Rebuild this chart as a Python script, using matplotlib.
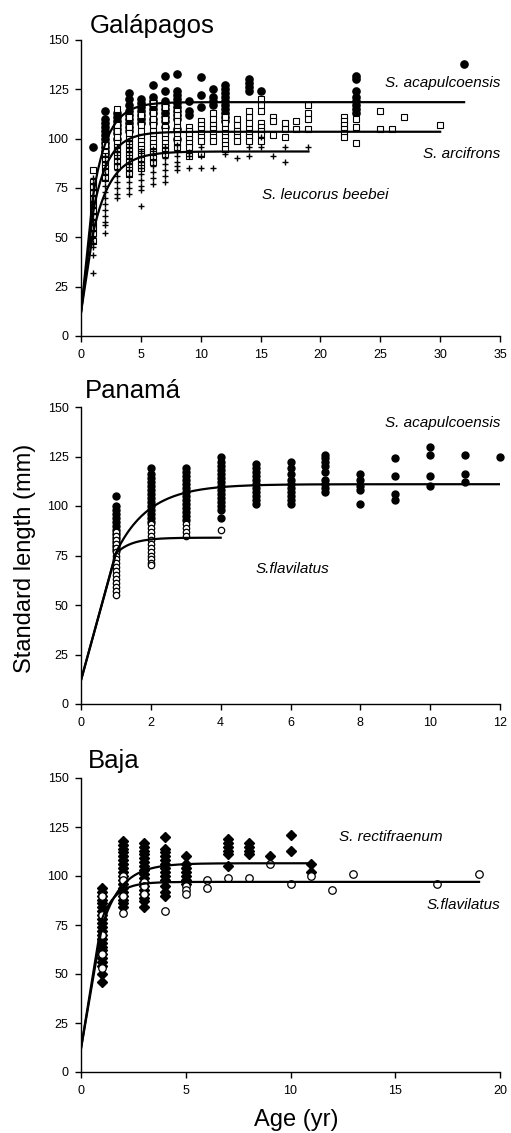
import numpy as np
import matplotlib.pyplot as plt

plt.rcParams['font.family'] = ['Liberation Sans', 'DejaVu Sans']

# ---- Galápagos ----
gal_acap_age = [1, 2, 3, 4, 5, 6, 7, 8, 9, 10, 11, 12, 14, 15, 23, 32]
gal_acap_sl = [
    [96],
    [114, 110, 108, 106, 104, 102, 100, 98, 96, 94, 92],
    [113, 111, 109, 107, 105, 103, 100],
    [123, 120, 117, 114, 112, 110, 108, 106, 104],
    [120, 118, 116, 114, 112, 110, 108],
    [127, 121, 119, 117, 115, 113, 110, 108],
    [132, 124, 119, 117, 115, 113, 111, 109, 106],
    [133, 124, 122, 120, 118, 116, 114, 112, 110, 105, 100],
    [119, 114, 112],
    [131, 122, 116],
    [125, 121, 119, 117],
    [127, 125, 123, 121, 119, 117, 115, 113, 111, 109],
    [130, 128, 126, 124],
    [124],
    [132, 130, 124, 121, 119, 117, 115, 113],
    [138],
]
gal_arci_age = [1, 2, 3, 4, 5, 6, 7, 8, 9, 10, 11, 12, 13, 14, 15, 16, 17, 18,
                19, 22, 23, 25, 26, 27, 30]
gal_arci_sl = [
    [84, 78, 76, 73, 70, 67, 64, 61, 58, 55, 52, 48],
    [97, 93, 91, 89, 87, 85, 83, 80],
    [115, 107, 104, 101, 98, 96, 94, 92, 90, 88, 86],
    [111, 106, 103, 100, 98, 96, 94, 92, 90, 88, 86, 84, 82],
    [112, 107, 104, 101, 99, 97, 95, 93, 91, 89, 87, 85],
    [118, 113, 110, 107, 104, 102, 100, 98, 96, 94, 92, 90, 88],
    [116, 110, 106, 104, 102, 100, 98, 96, 94, 92],
    [114, 112, 109, 106, 104, 102, 100, 98, 96],
    [106, 104, 102, 100, 98, 96, 91],
    [109, 107, 105, 103, 101, 99, 92],
    [113, 110, 107, 105, 103, 101, 99],
    [111, 108, 105, 103, 101, 99, 97, 95],
    [110, 107, 104, 101, 99],
    [114, 111, 108, 105, 103, 101, 99],
    [120, 117, 114, 108, 106, 104, 102, 99],
    [111, 109, 102],
    [108, 105, 101],
    [109, 105],
    [117, 113, 110, 105],
    [111, 109, 107, 105, 103, 101],
    [110, 106, 98],
    [114, 105],
    [105],
    [111],
    [107],
]
gal_leuc_age = [1, 2, 3, 4, 5, 6, 7, 8, 9, 10, 11, 12, 13, 14, 15, 16, 17, 19]
gal_leuc_sl = [
    [80, 77, 74, 71, 68, 65, 62, 59, 56, 53, 50, 47, 45, 41, 32],
    [91, 88, 85, 82, 79, 76, 73, 70, 67, 64, 61, 58, 56, 52],
    [96, 93, 90, 87, 84, 81, 78, 75, 72, 70],
    [99, 96, 93, 90, 87, 84, 81, 78, 75, 72],
    [94, 91, 88, 85, 82, 79, 76, 74, 66],
    [95, 92, 89, 86, 83, 80, 77],
    [96, 93, 90, 87, 84, 81, 78],
    [97, 94, 91, 88, 86, 84],
    [93, 91, 85],
    [96, 91, 85],
    [85],
    [92],
    [90],
    [96, 91],
    [101, 96],
    [91],
    [96, 88],
    [96],
]

# ---- Panamá ----
pan_acap_age = [1, 2, 3, 4, 5, 6, 7, 8, 9, 10, 11, 12]
pan_acap_sl = [
    [105, 100, 98, 96, 94, 92, 90, 88, 86, 84, 82, 80, 78],
    [119, 116, 114, 112, 110, 108, 106, 104, 102, 100, 98, 96, 94, 92],
    [119, 117, 115, 113, 111, 109, 107, 105, 103, 101, 99, 97, 95, 93],
    [125, 122, 120, 118, 116, 114, 112, 110, 108, 106, 104, 102, 100, 98, 94],
    [121, 119, 117, 115, 113, 111, 109, 107, 105, 103, 101],
    [122, 119, 116, 113, 111, 109, 107, 105, 103, 101],
    [126, 124, 122, 120, 117, 113, 111, 109, 107],
    [116, 113, 110, 108, 101],
    [124, 115, 106, 103],
    [130, 126, 115, 110],
    [126, 116, 112],
    [125],
]
pan_flav_age = [1, 2, 3, 4]
pan_flav_sl = [
    [87, 85, 83, 81, 79, 77, 75, 73, 71, 69, 67, 65, 63, 61, 59, 57, 55],
    [91, 89, 87, 85, 83, 81, 79, 77, 75, 73, 71, 70],
    [91, 89, 87, 85],
    [88],
]

# ---- Baja ----
baj_rect_age = [1, 2, 3, 4, 5, 7, 8, 9, 10, 11]
baj_rect_sl = [
    [94, 92, 90, 88, 86, 84, 82, 80, 78, 76, 74, 72, 70, 68, 66, 64, 62, 60,
     58, 56, 54, 50, 46],
    [118, 116, 114, 112, 110, 108, 106, 104, 102, 100, 98, 96, 94, 92, 90, 88,
     86, 84],
    [117, 115, 113, 111, 109, 107, 105, 103, 101, 99, 97, 95, 93, 91, 89, 87, 84],
    [120, 114, 112, 110, 108, 106, 104, 102, 100, 98, 95, 92, 90],
    [110, 106, 104, 102, 100, 98, 96],
    [119, 117, 115, 113, 111, 105],
    [117, 115, 113, 111],
    [110],
    [121, 113],
    [106, 102],
]
baj_flav_age = [1, 2, 3, 4, 5, 6, 7, 8, 9, 10, 11, 12, 13, 17, 19]
baj_flav_sl = [
    [90, 80, 70, 60, 53],
    [100, 98, 90, 81],
    [97, 95, 91],
    [82],
    [95, 93, 91],
    [98, 94],
    [99],
    [99],
    [106],
    [96],
    [100],
    [93],
    [101],
    [96],
    [101],
]

# von Bertalanffy fits: Linf, K, L0, last age drawn
gal_curves = {'acap': (118.5, 0.80, 12, 32), 'arci': (103.5, 0.80, 12, 30),
              'leuc': (93.5, 0.67, 12, 19)}
pan_curves = {'acap': (111.0, 1.05, 12, 12), 'flav': (84.0, 2.2, 12, 4)}
baj_curves = {'rect': (106.5, 1.07, 12, 11), 'flav': (97.0, 1.5, 12, 19)}


def vb(t, linf, k, l0):
    return linf - (linf - l0) * np.exp(-k * t)


def scatter(ax, ages, lengths, **kw):
    x = [a for a, ls in zip(ages, lengths) for _ in ls]
    y = [v for ls in lengths for v in ls]
    ax.plot(x, y, linestyle='none', clip_on=False, **kw)


def curves(ax, params):
    # straight segment from age 0 to 1, smooth over the sampled ages
    for linf, k, l0, tmax in params.values():
        t = np.concatenate([[0], np.linspace(1, tmax, 300)])
        ax.plot(t, vb(t, linf, k, l0), color='black', lw=1.6, zorder=5)


def style(ax, xmax, xstep):
    ax.set_xlim(0, xmax)
    ax.set_ylim(0, 150)
    ax.set_xticks(np.arange(0, xmax + 1, xstep))
    ax.set_yticks(range(0, 151, 25))
    for s in ['top', 'right']:
        ax.spines[s].set_visible(False)
    for s in ['left', 'bottom']:
        ax.spines[s].set_linewidth(1.0)
    ax.tick_params(direction='out', length=4, width=1, labelsize=9, pad=5)


W, H = 511, 1133
fig = plt.figure(figsize=(W / 100, H / 100), dpi=100)


def add_axes(top, bottom):
    return fig.add_axes([81 / W, 1 - bottom / H, 419 / W, (bottom - top) / H])


lab = dict(fontsize=11, style='italic')

# Galápagos
ax1 = add_axes(40, 336)
scatter(ax1, gal_acap_age, gal_acap_sl, marker='o', ms=5.2, mfc='black', mec='black')
scatter(ax1, gal_arci_age, gal_arci_sl, marker='s', ms=4.2, mfc='white', mec='black', mew=0.8)
scatter(ax1, gal_leuc_age, gal_leuc_sl, marker='+', ms=4.5, mec='black', mew=1.0)
curves(ax1, gal_curves)
style(ax1, 35, 5)
ax1.text(35, 128, 'S. acapulcoensis', ha='right', va='center', **lab)
ax1.text(35, 92, 'S. arcifrons', ha='right', va='center', **lab)
ax1.text(15.1, 71.5, 'S. leucorus beebei', ha='left', va='center', **lab)
fig.text(90 / W, 1 - 33 / H, 'Galápagos', fontsize=18.5, ha='left', va='baseline')

# Panamá
ax2 = add_axes(407, 704)
scatter(ax2, pan_acap_age, pan_acap_sl, marker='o', ms=5.0, mfc='black', mec='black')
scatter(ax2, pan_flav_age, pan_flav_sl, marker='o', ms=4.6, mfc='white', mec='black', mew=0.9)
curves(ax2, pan_curves)
style(ax2, 12, 2)
ax2.text(12, 142, 'S. acapulcoensis', ha='right', va='center', **lab)
ax2.text(5.0, 68, 'S.flavilatus', ha='left', va='center', **lab)
fig.text(85 / W, 1 - 398 / H, 'Panamá', fontsize=18.5, ha='left', va='baseline')

# Baja
ax3 = add_axes(778, 1072)
scatter(ax3, baj_rect_age, baj_rect_sl, marker='D', ms=4.6, mfc='black', mec='black')
scatter(ax3, baj_flav_age, baj_flav_sl, marker='o', ms=5.4, mfc='white', mec='black', mew=0.9)
curves(ax3, baj_curves)
style(ax3, 20, 5)
ax3.text(12.3, 120, 'S. rectifraenum', ha='left', va='center', **lab)
ax3.text(20, 85, 'S.flavilatus', ha='right', va='center', **lab)
fig.text(88 / W, 1 - 768 / H, 'Baja', fontsize=18.5, ha='left', va='baseline')

fig.text(25 / W, 1 - 558 / H, 'Standard length (mm)', fontsize=17, rotation=90,
         ha='center', va='center')
fig.text(296 / W, 1 - 1120 / H, 'Age (yr)', fontsize=17, ha='center', va='center')

fig.savefig('out.png', dpi=100)
